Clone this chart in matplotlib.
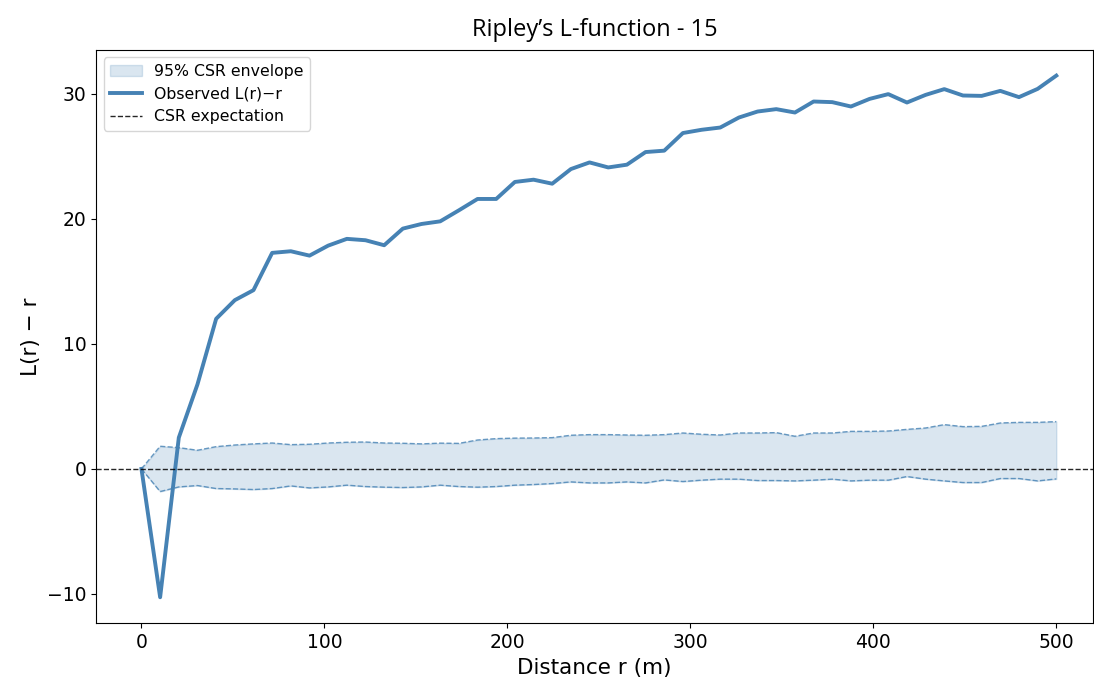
import numpy as np
import matplotlib
matplotlib.use("Agg")
import matplotlib.pyplot as plt

# distances (m), 50 evenly spaced samples
r = np.linspace(0, 500, 50)

observed = [0.0, -10.26, 2.5, 6.76, 12.0, 13.49, 14.29, 17.27, 17.40, 17.05,
            17.85, 18.39, 18.28, 17.88, 19.21, 19.58, 19.79, 20.67, 21.58, 21.58,
            22.94, 23.12, 22.80, 23.97, 24.50, 24.10, 24.32, 25.33, 25.44, 26.85,
            27.11, 27.29, 28.09, 28.57, 28.76, 28.49, 29.37, 29.32, 28.97, 29.58,
            29.96, 29.29, 29.90, 30.36, 29.85, 29.82, 30.22, 29.72, 30.38, 31.44]

env_upper = [0.0, 1.81, 1.70, 1.49, 1.78, 1.91, 2.00, 2.07, 1.94, 1.97,
             2.07, 2.13, 2.15, 2.07, 2.05, 2.00, 2.06, 2.04, 2.31, 2.42,
             2.46, 2.47, 2.50, 2.69, 2.74, 2.74, 2.71, 2.69, 2.74, 2.87,
             2.77, 2.71, 2.87, 2.87, 2.90, 2.61, 2.87, 2.87, 3.00, 3.00,
             3.03, 3.16, 3.27, 3.54, 3.38, 3.40, 3.67, 3.72, 3.72, 3.78]

env_lower = [0.0, -1.81, -1.44, -1.33, -1.57, -1.60, -1.65, -1.57, -1.36, -1.52,
             -1.44, -1.30, -1.41, -1.46, -1.49, -1.44, -1.30, -1.41, -1.46, -1.41,
             -1.30, -1.25, -1.17, -1.04, -1.12, -1.12, -1.04, -1.12, -0.88, -1.01,
             -0.90, -0.82, -0.82, -0.93, -0.93, -0.96, -0.90, -0.82, -0.96, -0.90,
             -0.90, -0.61, -0.82, -0.96, -1.09, -1.09, -0.77, -0.77, -0.96, -0.80]

fig, ax = plt.subplots(figsize=(10.94, 6.88), dpi=100)
fig.subplots_adjust(left=0.088, right=0.999, top=0.928, bottom=0.094)

ax.fill_between(r, env_lower, env_upper, color="steelblue", alpha=0.2,
                label="95% CSR envelope")
ax.plot(r, env_upper, "--", color="steelblue", lw=1, alpha=0.8)
ax.plot(r, env_lower, "--", color="steelblue", lw=1, alpha=0.8)
ax.plot(r, observed, color="steelblue", lw=2.8, label="Observed L(r)\u2212r")
ax.axhline(0, color="black", ls="--", lw=1, alpha=0.85, label="CSR expectation")

ax.set_xlim(-24.7, 520)
ax.set_title("Ripley\u2019s L-function - 15", fontsize=17, family="Open Sans", pad=10)
ax.set_xlabel("Distance r (m)", fontsize=15.5)
ax.set_ylabel("L(r) \u2212 r", fontsize=15.5)
ax.tick_params(labelsize=13.5)
ax.legend(loc="upper left", fontsize=11.3)

fig.savefig("out.png", dpi=100)
